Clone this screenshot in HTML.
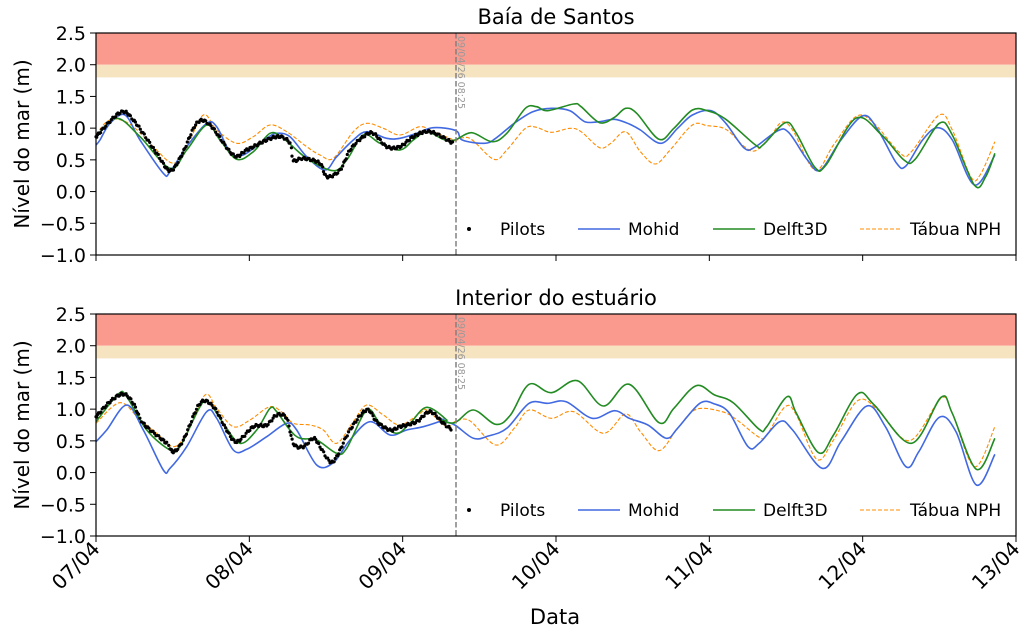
<!DOCTYPE html>
<html><head><meta charset="utf-8"><style>
html,body{margin:0;padding:0;background:#fff}
svg{display:block;font-family:"DejaVu Sans","Liberation Sans",sans-serif}
</style></head><body>
<svg id="s" width="1024" height="637" xmlns="http://www.w3.org/2000/svg"></svg>
<script>
const S=document.getElementById('s');let h='';
const X0=96,X1=1016,dayW=(X1-X0)/6;
const panels=[{top:33,bot:255,title:'Baía de Santos'},{top:314,bot:536,title:'Interior do estuário'}];
function P(ox,oy,a,sx){sx=sx||1/3;const r=[];for(let i=0;i<a.length;i+=2)r.push([ox+a[i]*sx,oy+a[i+1]/3]);return r;}
const R=0.3712;
function cr(pts){let d='M'+pts[0][0].toFixed(1)+' '+pts[0][1].toFixed(1);for(let i=0;i<pts.length-1;i++){const p0=pts[i-1]||pts[i],p1=pts[i],p2=pts[i+1],p3=pts[i+2]||p2;const c1=[p1[0]+(p2[0]-p0[0])/6,p1[1]+(p2[1]-p0[1])/6],c2=[p2[0]-(p3[0]-p1[0])/6,p2[1]-(p3[1]-p1[1])/6];d+=`C${c1[0].toFixed(1)} ${c1[1].toFixed(1)} ${c2[0].toFixed(1)} ${c2[1].toFixed(1)} ${p2[0].toFixed(1)} ${p2[1].toFixed(1)}`;}return d;}
function sampleCR(pts){const out=[];for(let i=0;i<pts.length-1;i++){const p0=pts[i-1]||pts[i],p1=pts[i],p2=pts[i+1],p3=pts[i+2]||p2;const n=Math.max(2,Math.round((p2[0]-p1[0])/1.2));for(let k=0;k<n;k++){const t=k/n,t2=t*t,t3=t2*t;const f=(a,b,c,d)=>0.5*(2*b+(-a+c)*t+(2*a-5*b+4*c-d)*t2+(-a+3*b-3*c+d)*t3);out.push([f(p0[0],p1[0],p2[0],p3[0]),f(p0[1],p1[1],p2[1],p3[1])]);}}return out;}
const data=[
{blue:P(0,0,[288,435,300,420,330,370,375,345,420,420,490,520,510,515,560,440,620,370,650,380,690,455,730,465,800,415,830,400,870,410,920,470,975,510,1010,470,1060,420,1100,395,1160,415,1200,415,1250,400,1300,383,1368,392]).concat(P(440,80,[60,180,120,190,150,175,200,130,250,95,300,85,350,92,390,125,430,125,470,118,510,132,540,150,595,190,640,145,680,105,730,92,770,130,820,205,850,200,910,152,940,158,990,240,1025,270,1080,180,1140,107,1180,150,1230,250,1255,258,1300,180,1340,143,1380,180,1440,315,1495,225],R)),
green:P(0,0,[288,410,350,355,420,410,510,505,560,450,620,375,660,420,710,478,760,455,810,400,850,415,920,475,1000,512,1040,480,1090,405,1140,430,1200,450,1240,420,1280,395,1330,418]).concat(P(440,80,[40,180,85,158,140,185,180,160,230,85,260,80,290,92,360,72,380,80,430,128,470,112,500,85,530,100,590,178,630,145,680,90,720,92,770,118,850,195,870,195,930,128,960,160,1010,262,1040,255,1120,115,1190,165,1250,240,1280,238,1345,130,1380,165,1440,316,1470,290,1495,220],R)),
orange:P(0,0,[288,405,320,365,355,358,400,380,460,440,520,490,560,440,610,345,650,390,710,430,760,410,810,375,860,395,920,440,960,465,1000,475,1060,395,1100,370,1150,385,1200,405,1260,380,1300,395,1350,415]).concat(P(440,80,[40,182,80,175,145,238,180,210,230,145,260,142,300,157,350,145,380,155,430,203,460,190,500,155,540,215,580,252,620,210,680,135,720,137,770,148,820,200,850,212,890,170,920,127,950,150,1010,270,1060,195,1120,110,1165,125,1240,220,1270,215,1345,105,1380,150,1430,290,1455,285,1495,185],R)),
black:P(0,0,[288,410,360,338,400,360,470,460,510,512,545,465,590,370,630,375,700,465,740,450,800,420,840,410,870,430,880,480,910,475,960,490,980,530,1020,510,1050,450,1090,410,1120,400,1160,440,1200,440,1240,410,1290,395,1360,430])},
{blue:P(0,290,[288,455,320,420,380,345,430,420,490,540,510,535,560,470,620,365,650,385,700,480,740,478,800,440,860,400,890,420,950,525,1000,518,1050,450,1110,395,1170,435,1220,420,1270,410,1330,390]).concat(P(440,360,[0,180,40,195,90,235,130,228,180,205,240,130,290,130,340,125,410,175,470,152,510,175,560,195,610,235,640,205,700,130,740,132,780,160,830,260,860,250,915,185,950,210,1030,325,1080,245,1150,138,1200,200,1255,320,1290,275,1345,172,1390,215,1445,375,1495,283],R)),
green:P(0,290,[288,395,355,312,380,320,440,420,510,480,540,470,600,350,625,335,670,400,720,460,770,420,810,355,830,365,870,420,900,445,950,450,1010,490,1040,475,1100,360,1140,400,1190,430,1230,400,1280,352,1340,390]).concat(P(440,360,[0,180,40,188,90,150,150,193,190,165,240,73,300,98,370,62,440,138,510,73,590,188,630,145,690,77,740,105,790,128,860,208,880,200,935,110,960,160,1020,278,1060,225,1125,102,1170,135,1270,250,1350,112,1380,160,1445,328,1495,235],R)),
orange:P(0,290,[288,400,360,338,420,390,470,430,520,470,560,430,615,315,650,355,700,410,750,390,810,350,850,370,880,400,930,405,970,420,1010,460,1060,395,1100,345,1150,375,1200,405,1260,370,1280,360,1340,410]).concat(P(440,360,[40,185,80,182,150,255,200,205,240,150,300,175,360,155,440,220,500,162,540,215,590,272,640,205,690,148,760,155,800,180,860,232,880,225,930,140,960,165,1015,298,1060,240,1125,122,1180,150,1265,242,1350,115,1380,160,1440,320,1495,200],R)),
black:P(0,290,[288,380,330,335,370,312,400,340,430,400,500,460,520,485,550,450,600,340,640,350,680,420,710,455,760,410,800,405,830,375,860,385,880,460,910,470,940,445,960,470,990,515,1010,500,1050,420,1100,360,1130,395,1170,420,1200,410,1250,395,1290,365,1330,400,1355,418])}
];
panels.forEach((p,i)=>{
 const sc=(p.bot-p.top)/3.5, Y=v=>p.bot-(v+1)*sc;
 h+=`<rect x="${X0}" y="${p.top}" width="${X1-X0}" height="${Y(2)-p.top}" fill="#fa9a8e"/>`;
 h+=`<rect x="${X0}" y="${Y(2)}" width="${X1-X0}" height="${Y(1.8)-Y(2)}" fill="#f6e3c0"/>`;
 h+=`<text x="556" y="${p.top-9}" font-size="21" text-anchor="middle">${p.title}</text>`;
 for(let v=-1;v<=2.5;v+=0.5){const y=Y(v);h+=`<line x1="${X0-6}" x2="${X0}" y1="${y}" y2="${y}" stroke="#000" stroke-width="1"/><text x="${X0-10}" y="${y+7}" font-size="19" text-anchor="end">${v<0?'−':''}${Math.abs(v).toFixed(1)}</text>`;}
 for(let d=0;d<=6;d++){const x=X0+d*dayW;h+=`<line x1="${x}" x2="${x}" y1="${p.bot}" y2="${p.bot+6}" stroke="#000"/>`;}
 h+=`<text transform="translate(29 ${(p.top+p.bot)/2}) rotate(-90)" font-size="20" text-anchor="middle">Nível do mar (m)</text>`;
 const D=data[i];
 const clip=`clip-path="url(#c${i})"`;
 h+=`<clipPath id="c${i}"><rect x="${X0}" y="${p.top}" width="${X1-X0}" height="${p.bot-p.top}"/></clipPath>`;
 h+=`<path d="${cr(D.orange)}" fill="none" stroke="#ff8c00" stroke-width="1.1" stroke-dasharray="4 2" ${clip}/>`;
 h+=`<path d="${cr(D.blue)}" fill="none" stroke="#4169e1" stroke-width="1.6" ${clip}/>`;
 h+=`<path d="${cr(D.green)}" fill="none" stroke="#228b22" stroke-width="1.6" ${clip}/>`;
 sampleCR(D.black).forEach((q,k)=>{h+=`<circle cx="${q[0].toFixed(1)}" cy="${(q[1]+Math.sin(k*1.7)*1.2).toFixed(1)}" r="1.6" fill="#000"/>`;});
 h+=`<line x1="456" x2="456" y1="${p.top}" y2="${p.bot}" stroke="#808080" stroke-width="1.5" stroke-dasharray="5.5 2.5"/>`;
 h+=`<text transform="translate(458 ${p.top+3}) rotate(90)" font-size="9.5" fill="#999">09/04/26 08:25</text>`;
 h+=`<rect x="${X0}" y="${p.top}" width="${X1-X0}" height="${p.bot-p.top}" fill="none" stroke="#000" stroke-width="1.2"/>`;
 const ly=p.bot-26;
 h+=`<circle cx="469" cy="${ly}" r="2" fill="#000"/><text x="500" y="${ly+6}" font-size="17">Pilots</text>`;
 h+=`<line x1="578" x2="620" y1="${ly}" y2="${ly}" stroke="#4169e1" stroke-width="1.6"/><text x="628" y="${ly+6}" font-size="17">Mohid</text>`;
 h+=`<line x1="713" x2="755" y1="${ly}" y2="${ly}" stroke="#228b22" stroke-width="1.6"/><text x="763" y="${ly+6}" font-size="17">Delft3D</text>`;
 h+=`<line x1="860" x2="902" y1="${ly}" y2="${ly}" stroke="#ff8c00" stroke-width="1.1" stroke-dasharray="4 2"/><text x="910" y="${ly+6}" font-size="17">Tábua NPH</text>`;
});
['07/04','08/04','09/04','10/04','11/04','12/04','13/04'].forEach((t,d)=>{const x=X0+d*dayW;h+=`<text transform="translate(${x+5} ${550}) rotate(-45)" font-size="20" text-anchor="end">${t}</text>`;});
h+=`<text x="555" y="624" font-size="21" text-anchor="middle">Data</text>`;
S.innerHTML=h;
</script>
</body></html>
